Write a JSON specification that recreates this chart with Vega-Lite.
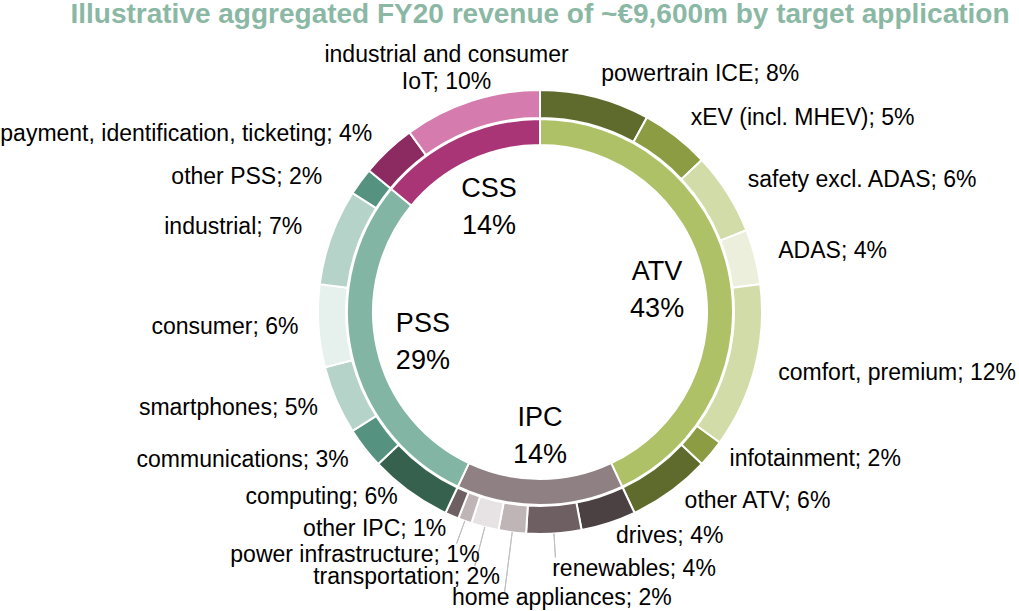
{
  "$schema": "https://vega.github.io/schema/vega-lite/v6.json",
  "width": 958,
  "height": 544,
  "autosize": {"type": "none"},
  "padding": {"left": 61, "top": 40, "right": 0, "bottom": 27},
  "background": "white",
  "title": {
    "text": "Illustrative aggregated FY20 revenue of ~€9,600m by target application",
    "font": "Liberation Sans",
    "fontSize": 28,
    "fontWeight": "bold",
    "color": "#8ab8a4",
    "anchor": "middle",
    "offset": -7
  },
  "config": {"view": {"stroke": null}, "text": {"font": "Liberation Sans", "color": "#000000", "fontSize": 23}},
  "datasets": {
    "inner": [
      {"idx": 1, "name": "ATV", "value": 43, "label": "ATV\n43%"},
      {"idx": 2, "name": "IPC", "value": 14, "label": "IPC\n14%"},
      {"idx": 3, "name": "PSS", "value": 29, "label": "PSS\n29%"},
      {"idx": 4, "name": "CSS", "value": 14, "label": "CSS\n14%"}
    ],
    "outer": [
      {"idx": 1, "name": "powertrain ICE", "value": 8, "label": "powertrain ICE; 8%"},
      {"idx": 2, "name": "xEV (incl. MHEV)", "value": 5, "label": "xEV (incl. MHEV); 5%"},
      {"idx": 3, "name": "safety excl. ADAS", "value": 6, "label": "safety excl. ADAS; 6%"},
      {"idx": 4, "name": "ADAS", "value": 4, "label": "ADAS; 4%"},
      {"idx": 5, "name": "comfort, premium", "value": 12, "label": "comfort, premium; 12%"},
      {"idx": 6, "name": "infotainment", "value": 2, "label": "infotainment; 2%"},
      {"idx": 7, "name": "other ATV", "value": 6, "label": "other ATV; 6%"},
      {"idx": 8, "name": "drives", "value": 4, "label": "drives; 4%"},
      {"idx": 9, "name": "renewables", "value": 4, "label": "renewables; 4%"},
      {"idx": 10, "name": "home appliances", "value": 2, "label": "home appliances; 2%"},
      {"idx": 11, "name": "transportation", "value": 2, "label": "transportation; 2%"},
      {"idx": 12, "name": "power infrastructure", "value": 1, "label": "power infrastructure; 1%"},
      {"idx": 13, "name": "other IPC", "value": 1, "label": "other IPC; 1%"},
      {"idx": 14, "name": "computing", "value": 6, "label": "computing; 6%"},
      {"idx": 15, "name": "communications", "value": 3, "label": "communications; 3%"},
      {"idx": 16, "name": "smartphones", "value": 5, "label": "smartphones; 5%"},
      {"idx": 17, "name": "consumer", "value": 6, "label": "consumer; 6%"},
      {"idx": 18, "name": "industrial", "value": 7, "label": "industrial; 7%"},
      {"idx": 19, "name": "other PSS", "value": 2, "label": "other PSS; 2%"},
      {"idx": 20, "name": "payment, identification, ticketing", "value": 4, "label": "payment, identification, ticketing; 4%"},
      {"idx": 21, "name": "industrial and consumer IoT", "value": 10, "label": "industrial and consumer\nIoT; 10%"}
    ]
  },
  "layer": [
    {
      "data": {"name": "outer"},
      "mark": {"type": "arc", "radius": 222, "radius2": 194, "stroke": "white", "strokeWidth": 2},
      "encoding": {
        "theta": {"field": "value", "type": "quantitative", "stack": true},
        "order": {"field": "idx", "type": "quantitative"},
        "color": {
          "field": "name", "type": "nominal", "legend": null,
          "scale": {
            "domain": ["ATV", "IPC", "PSS", "CSS", "powertrain ICE", "xEV (incl. MHEV)", "safety excl. ADAS", "ADAS", "comfort, premium", "infotainment", "other ATV", "drives", "renewables", "home appliances", "transportation", "power infrastructure", "other IPC", "computing", "communications", "smartphones", "consumer", "industrial", "other PSS", "payment, identification, ticketing", "industrial and consumer IoT"],
            "range": ["#aec167", "#8f8083", "#83b5a4", "#a93576", "#5e6b2d", "#8b9c42", "#d1dca9", "#ebefdc", "#d1dca9", "#8b9c42", "#5e6b2d", "#4b4142", "#6e5f62", "#bfb4b6", "#e7e3e4", "#bfb4b6", "#6e5f62", "#37614f", "#569280", "#b5d3c8", "#e6f0ec", "#b5d3c8", "#569280", "#8c2b62", "#d67bae"]
          }
        }
      }
    },
    {
      "data": {"name": "inner"},
      "mark": {"type": "arc", "radius": 193, "radius2": 167, "stroke": "white", "strokeWidth": 2},
      "encoding": {
        "theta": {"field": "value", "type": "quantitative", "stack": true},
        "order": {"field": "idx", "type": "quantitative"},
        "color": {"field": "name", "type": "nominal", "legend": null}
      }
    },
    {
      "data": {"name": "outer"},
      "mark": {"type": "arc", "filled": false, "padAngle": 0.6, "radius": 246, "radius2": 222, "strokeWidth": 1},
      "encoding": {
        "theta": {"field": "value", "type": "quantitative", "stack": true},
        "order": {"field": "idx", "type": "quantitative"},
        "stroke": {"condition": {"test": "datum.name === 'renewables'", "value": "#bfbfbf"}, "value": "transparent"}
      }
    },
    {
      "data": {"name": "outer"},
      "mark": {"type": "arc", "filled": false, "padAngle": 0.6, "radius": 284, "radius2": 222, "strokeWidth": 1},
      "encoding": {
        "theta": {"field": "value", "type": "quantitative", "stack": true},
        "order": {"field": "idx", "type": "quantitative"},
        "stroke": {"condition": {"test": "datum.name === 'home appliances'", "value": "#bfbfbf"}, "value": "transparent"}
      }
    },
    {
      "data": {"name": "outer"},
      "mark": {"type": "arc", "filled": false, "padAngle": 0.6, "radius": 262, "radius2": 222, "strokeWidth": 1},
      "encoding": {
        "theta": {"field": "value", "type": "quantitative", "stack": true},
        "order": {"field": "idx", "type": "quantitative"},
        "stroke": {"condition": {"test": "datum.name === 'transportation'", "value": "#bfbfbf"}, "value": "transparent"}
      }
    },
    {
      "data": {"name": "outer"},
      "mark": {"type": "arc", "filled": false, "padAngle": 0.6, "radius": 246, "radius2": 222, "strokeWidth": 1},
      "encoding": {
        "theta": {"field": "value", "type": "quantitative", "stack": true},
        "order": {"field": "idx", "type": "quantitative"},
        "stroke": {"condition": {"test": "datum.name === 'power infrastructure'", "value": "#bfbfbf"}, "value": "transparent"}
      }
    },
    {
      "data": {"name": "outer"},
      "mark": {"type": "text", "radius": 246, "align": "left", "baseline": "middle"},
      "encoding": {
        "theta": {"field": "value", "type": "quantitative", "stack": true},
        "order": {"field": "idx", "type": "quantitative"},
        "detail": {"field": "name", "type": "nominal"},
        "text": {"condition": {"test": "indexof(['powertrain ICE','xEV (incl. MHEV)','safety excl. ADAS','ADAS','comfort, premium'], datum.name) >= 0", "field": "label"}, "value": ""}
      }
    },
    {
      "data": {"name": "outer"},
      "mark": {"type": "text", "radius": 246, "align": "left", "baseline": "middle", "dy": -10},
      "encoding": {
        "theta": {"field": "value", "type": "quantitative", "stack": true},
        "order": {"field": "idx", "type": "quantitative"},
        "detail": {"field": "name", "type": "nominal"},
        "text": {"condition": {"test": "indexof(['infotainment','other ATV','drives'], datum.name) >= 0", "field": "label"}, "value": ""}
      }
    },
    {
      "data": {"name": "outer"},
      "mark": {"type": "text", "radius": 242, "align": "right", "baseline": "middle"},
      "encoding": {
        "theta": {"field": "value", "type": "quantitative", "stack": true},
        "order": {"field": "idx", "type": "quantitative"},
        "detail": {"field": "name", "type": "nominal"},
        "text": {"condition": {"test": "indexof(['communications','smartphones','consumer'], datum.name) >= 0", "field": "label"}, "value": ""}
      }
    },
    {
      "data": {"name": "outer"},
      "mark": {"type": "text", "radius": 236, "align": "right", "baseline": "middle"},
      "encoding": {
        "theta": {"field": "value", "type": "quantitative", "stack": true},
        "order": {"field": "idx", "type": "quantitative"},
        "detail": {"field": "name", "type": "nominal"},
        "text": {"condition": {"test": "datum.name === 'other IPC'", "field": "label"}, "value": ""}
      }
    },
    {
      "data": {"name": "outer"},
      "mark": {"type": "text", "radius": 242, "align": "right", "baseline": "middle", "dy": -11},
      "encoding": {
        "theta": {"field": "value", "type": "quantitative", "stack": true},
        "order": {"field": "idx", "type": "quantitative"},
        "detail": {"field": "name", "type": "nominal"},
        "text": {"condition": {"test": "datum.name === 'computing'", "field": "label"}, "value": ""}
      }
    },
    {
      "data": {"name": "outer"},
      "mark": {"type": "text", "radius": 242, "align": "right", "baseline": "middle", "dx": -10, "dy": -3},
      "encoding": {
        "theta": {"field": "value", "type": "quantitative", "stack": true},
        "order": {"field": "idx", "type": "quantitative"},
        "detail": {"field": "name", "type": "nominal"},
        "text": {"condition": {"test": "datum.name === 'industrial'", "field": "label"}, "value": ""}
      }
    },
    {
      "data": {"name": "outer"},
      "mark": {"type": "text", "radius": 242, "align": "right", "baseline": "middle", "dx": -22, "dy": 7},
      "encoding": {
        "theta": {"field": "value", "type": "quantitative", "stack": true},
        "order": {"field": "idx", "type": "quantitative"},
        "detail": {"field": "name", "type": "nominal"},
        "text": {"condition": {"test": "datum.name === 'other PSS'", "field": "label"}, "value": ""}
      }
    },
    {
      "data": {"name": "outer"},
      "mark": {"type": "text", "radius": 242, "align": "right", "baseline": "middle", "dx": -2, "dy": -2},
      "encoding": {
        "theta": {"field": "value", "type": "quantitative", "stack": true},
        "order": {"field": "idx", "type": "quantitative"},
        "detail": {"field": "name", "type": "nominal"},
        "text": {"condition": {"test": "datum.name === 'payment, identification, ticketing'", "field": "label"}, "value": ""}
      }
    },
    {
      "data": {"name": "outer"},
      "mark": {"type": "text", "radius": 270, "align": "center", "baseline": "middle", "dx": -10, "lineBreak": "\n", "lineHeight": 27},
      "encoding": {
        "theta": {"field": "value", "type": "quantitative", "stack": true},
        "order": {"field": "idx", "type": "quantitative"},
        "detail": {"field": "name", "type": "nominal"},
        "text": {"condition": {"test": "datum.name === 'industrial and consumer IoT'", "field": "label"}, "value": ""}
      }
    },
    {
      "data": {"name": "outer"},
      "mark": {"type": "text", "radius": 258, "align": "left", "baseline": "middle", "dx": -4},
      "encoding": {
        "theta": {"field": "value", "type": "quantitative", "stack": true},
        "order": {"field": "idx", "type": "quantitative"},
        "detail": {"field": "name", "type": "nominal"},
        "text": {"condition": {"test": "datum.name === 'renewables'", "field": "label"}, "value": ""}
      }
    },
    {
      "data": {"name": "outer"},
      "mark": {"type": "text", "radius": 288, "align": "left", "baseline": "middle", "dx": -52},
      "encoding": {
        "theta": {"field": "value", "type": "quantitative", "stack": true},
        "order": {"field": "idx", "type": "quantitative"},
        "detail": {"field": "name", "type": "nominal"},
        "text": {"condition": {"test": "datum.name === 'home appliances'", "field": "label"}, "value": ""}
      }
    },
    {
      "data": {"name": "outer"},
      "mark": {"type": "text", "radius": 274, "align": "right", "baseline": "middle", "dx": 28},
      "encoding": {
        "theta": {"field": "value", "type": "quantitative", "stack": true},
        "order": {"field": "idx", "type": "quantitative"},
        "detail": {"field": "name", "type": "nominal"},
        "text": {"condition": {"test": "datum.name === 'transportation'", "field": "label"}, "value": ""}
      }
    },
    {
      "data": {"name": "outer"},
      "mark": {"type": "text", "radius": 258, "align": "right", "baseline": "middle", "dx": 27},
      "encoding": {
        "theta": {"field": "value", "type": "quantitative", "stack": true},
        "order": {"field": "idx", "type": "quantitative"},
        "detail": {"field": "name", "type": "nominal"},
        "text": {"condition": {"test": "datum.name === 'power infrastructure'", "field": "label"}, "value": ""}
      }
    },
    {
      "data": {"name": "inner"},
      "mark": {"type": "text", "radius": 120, "align": "center", "baseline": "middle", "fontSize": 27, "dy": -14, "lineBreak": "\n", "lineHeight": 37},
      "encoding": {
        "theta": {"field": "value", "type": "quantitative", "stack": true},
        "order": {"field": "idx", "type": "quantitative"},
        "detail": {"field": "name", "type": "nominal"},
        "text": {"field": "label"}
      }
    }
  ]
}
